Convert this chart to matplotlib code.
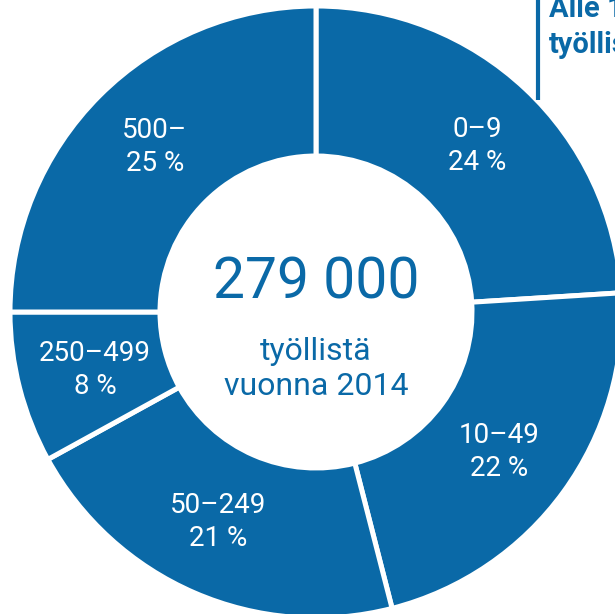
import matplotlib
matplotlib.use("Agg")
import matplotlib.pyplot as plt

# tiedot
ryhmat = ['0–9', '10–49', '50–249', '250–499', '500–']
osuudet = [24, 22, 21, 8, 25]
yhteensa = '279 000'
alateksti = ['työllistä', 'vuonna 2014']

sininen = '#0a69a7'
plt.rcParams['font.family'] = ['Roboto', 'DejaVu Sans']

W, H = 615, 614
fig = plt.figure(figsize=(W / 100, H / 100), dpi=100)
ax = fig.add_axes([0, 0, 1, 1])

cx, cy = 316, H - 312   # keskipiste (pikseleinä)
R = 306

wedges, _ = ax.pie(osuudet, radius=R, center=(cx, cy), startangle=90,
                   counterclock=False,
                   colors=[sininen] * len(osuudet),
                   wedgeprops=dict(width=150, edgecolor='white', linewidth=3.6))
ax.set_xlim(0, W)
ax.set_ylim(0, H)
ax.set_aspect('auto')
ax.axis('off')

# tekstien paikat (x, y ylhäältä)
paikat = [(477, 146), (499, 452), (218, 522), (95, 370), (155, 147)]
for ryhma, osuus, (x, y) in zip(ryhmat, osuudet, paikat):
    ax.text(x, H - y, f'{ryhma}\n{osuus} %', color='white', fontsize=20,
            ha='center', va='center', linespacing=1.3)

ax.text(316, H - 283, yhteensa, color=sininen, fontsize=41,
        ha='center', va='center')
ax.text(316, H - 369, '\n'.join(alateksti), color=sininen, fontsize=23,
        ha='center', va='center', linespacing=1.25)

# oikean yläkulman selite
ax.plot([538, 538], [H, H - 100], color=sininen, lw=3, solid_capstyle='butt')
ax.text(549, H - 27, 'Alle 10\ntyöllistä', color=sininen, fontsize=21,
        fontweight='bold', ha='left', va='center', linespacing=1.35)

fig.savefig('out.png', dpi=100)
